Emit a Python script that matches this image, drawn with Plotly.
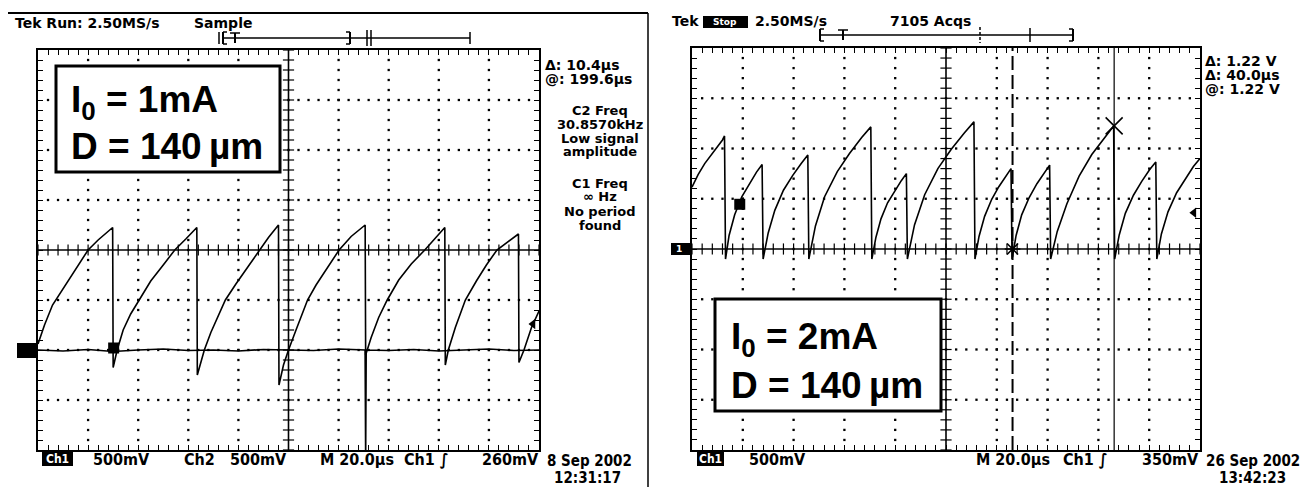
import plotly.graph_objects as go

W, H = 1307, 487

# ---------------- data (screen divisions: x 0..10, y -4..4) ----------------
# Left screen, I0 = 1 mA : Ch1 relaxation sawtooth
l_ch1_x = [0.00, 0.13, 0.29, 0.50, 0.71, 1.00, 1.20, 1.35, 1.49,
           1.50, 1.58, 1.70, 1.85, 2.02, 2.25, 2.50, 2.73, 2.95, 3.17,
           3.18, 3.32, 3.45, 3.60, 3.74, 3.95, 4.18, 4.41, 4.60, 4.80,
           4.81, 4.90, 5.00, 5.15, 5.38, 5.55, 5.78, 6.01, 6.25, 6.53,
           6.54, 6.65, 6.80, 6.97, 7.20, 7.45, 7.72, 7.90, 8.12,
           8.13, 8.19, 8.33, 8.53, 8.75, 8.95, 9.16, 9.38, 9.59,
           9.60, 9.70, 9.85, 10.00]
l_ch1_y = [-1.88, -1.50, -1.10, -0.78, -0.46, 0.00, 0.20, 0.33, 0.45,
           -2.35, -2.00, -1.60, -1.28, -1.00, -0.62, -0.30, 0.00, 0.22, 0.45,
           -2.50, -2.00, -1.65, -1.30, -1.00, -0.68, -0.35, 0.00, 0.25, 0.50,
           -2.70, -2.30, -2.00, -1.60, -1.00, -0.70, -0.35, 0.00, 0.27, 0.50,
           -2.10, -1.75, -1.35, -1.00, -0.60, -0.28, 0.00, 0.20, 0.45,
           -2.30, -2.00, -1.55, -1.00, -0.62, -0.30, 0.00, 0.17, 0.32,
           -2.25, -2.00, -1.55, -1.22]
# Left screen : Ch2 (flat trace with one spike)
l_ch2_x = [0.0, 0.5, 1.0, 1.5, 2.0, 2.5, 3.0, 3.5, 4.0, 4.5, 5.0, 5.5, 6.0,
           6.53, 6.54, 6.55, 7.0, 7.5, 8.0, 8.5, 9.0, 9.5, 10.0]
l_ch2_y = [-2.00, -2.02, -1.99, -2.03, -2.00, -1.98, -2.01, -2.00, -2.02, -1.99,
           -2.00, -2.01, -1.98, -2.00, -4.00, -2.00, -2.01, -1.99, -2.02, -2.00,
           -1.98, -2.01, -2.00]

# Right screen, I0 = 2 mA : Ch1 sawtooth
r_ch1_x = [0.00, 0.12, 0.25, 0.38, 0.50, 0.60, 0.64,
           0.66, 0.73, 0.84, 0.98, 1.13, 1.27, 1.38,
           1.40, 1.50, 1.63, 1.80, 1.98, 2.15, 2.28,
           2.30, 2.43, 2.61, 2.86, 3.10, 3.34, 3.52,
           3.54, 3.62, 3.72, 3.85, 3.99, 4.12, 4.22,
           4.24, 4.38, 4.58, 4.84, 5.10, 5.36, 5.55,
           5.57, 5.65, 5.76, 5.90, 6.04, 6.18, 6.28,
           6.30, 6.38, 6.49, 6.64, 6.79, 6.93, 7.04,
           7.06, 7.19, 7.38, 7.62, 7.87, 8.12, 8.30,
           8.32, 8.41, 8.53, 8.69, 8.85, 9.01, 9.13,
           9.15, 9.24, 9.37, 9.54, 9.71, 9.87, 10.00]
r_ch1_y = [1.23, 1.48, 1.70, 1.88, 2.03, 2.17, 2.25,
           -0.20, 0.27, 0.68, 1.04, 1.30, 1.53, 1.68,
           -0.20, 0.32, 0.77, 1.17, 1.46, 1.70, 1.87,
           -0.20, 0.46, 1.04, 1.54, 1.90, 2.22, 2.43,
           -0.20, 0.23, 0.60, 0.92, 1.16, 1.36, 1.50,
           -0.20, 0.48, 1.08, 1.60, 1.98, 2.31, 2.53,
           -0.20, 0.25, 0.65, 0.99, 1.24, 1.46, 1.60,
           -0.20, 0.27, 0.68, 1.03, 1.30, 1.52, 1.67,
           -0.20, 0.35, 0.90, 1.45, 1.88, 2.22, 2.45,
           -0.20, 0.28, 0.71, 1.07, 1.34, 1.58, 1.73,
           -0.20, 0.30, 0.74, 1.12, 1.40, 1.64, 1.80]
# Right screen cursors (divisions)
r_cursor_x = [6.31, 8.31]
r_cursor_y = [0.0, 2.45]

left_info = ["C2 Freq", "30.8570kHz", "Low signal", "amplitude",
             "C1 Freq", "\u221e Hz", "No period", "found"]

# ---------------- helpers ----------------
def px(x):
    return x / W

def py(y):
    return 1 - y / H

FONT = "DejaVu Sans"
FONTC = "DejaVu Sans Condensed, DejaVu Sans"
BIG = "Liberation Sans, Arial"

fig = go.Figure()

axstyle = dict(showgrid=False, zeroline=False, showticklabels=False,
               ticks="inside", ticklen=5, tickwidth=1, tickcolor="black",
               dtick=0.2, tick0=0, showline=True, linewidth=2,
               linecolor="black", mirror="ticks", fixedrange=True)

fig.update_layout(
    width=W, height=H, margin=dict(l=0, r=0, t=0, b=0),
    paper_bgcolor="white", plot_bgcolor="white", showlegend=False,
    xaxis=dict(domain=[px(38), px(539)], range=[0, 10], anchor="y", **axstyle),
    yaxis=dict(domain=[py(450), py(50)], range=[-4, 4], anchor="x", **axstyle),
    xaxis2=dict(domain=[px(692), px(1200)], range=[0, 10], anchor="y2", **axstyle),
    yaxis2=dict(domain=[py(450), py(48)], range=[-4, 4], anchor="x2", **axstyle),
)


def graticule(xa, ya):
    dx, dy = [], []
    for k in [1, 2, 3, 4, 6, 7, 8, 9]:
        for m in range(1, 40):
            dx.append(k)
            dy.append(-4 + m * 0.2)
    for j in [-3, -2, -1, 1, 2, 3]:
        for m in range(1, 50):
            dx.append(m * 0.2)
            dy.append(j)
    fig.add_trace(go.Scatter(x=dx, y=dy, xaxis=xa, yaxis=ya, mode="markers",
                             marker=dict(symbol="square", size=2.3, color="black"),
                             hoverinfo="skip"))
    fig.add_trace(go.Scatter(x=[0, 10], y=[0, 0], xaxis=xa, yaxis=ya, mode="lines",
                             line=dict(color="black", width=1.6), hoverinfo="skip"))
    fig.add_trace(go.Scatter(x=[5, 5], y=[-4, 4], xaxis=xa, yaxis=ya, mode="lines",
                             line=dict(color="black", width=1.6), hoverinfo="skip"))
    tx = [m * 0.2 for m in range(51)]
    fig.add_trace(go.Scatter(x=tx, y=[0] * len(tx), xaxis=xa, yaxis=ya, mode="markers",
                             marker=dict(symbol="line-ns", size=8, color="black",
                                         line=dict(width=1.2, color="black")),
                             hoverinfo="skip"))
    ty = [-4 + m * 0.2 for m in range(41)]
    fig.add_trace(go.Scatter(x=[5] * len(ty), y=ty, xaxis=xa, yaxis=ya, mode="markers",
                             marker=dict(symbol="line-ew", size=8, color="black",
                                         line=dict(width=1.2, color="black")),
                             hoverinfo="skip"))


graticule("x", "y")
graticule("x2", "y2")

# traces
fig.add_trace(go.Scatter(x=l_ch2_x, y=l_ch2_y, xaxis="x", yaxis="y", mode="lines",
                         line=dict(color="black", width=1.7), hoverinfo="skip"))
fig.add_trace(go.Scatter(x=l_ch1_x, y=l_ch1_y, xaxis="x", yaxis="y", mode="lines",
                         line=dict(color="black", width=1.6), hoverinfo="skip"))
fig.add_trace(go.Scatter(x=r_ch1_x, y=r_ch1_y, xaxis="x2", yaxis="y2", mode="lines",
                         line=dict(color="black", width=1.6), hoverinfo="skip"))

# trigger markers
fig.add_trace(go.Scatter(x=[1.51], y=[-1.96], xaxis="x", yaxis="y", mode="markers",
                         marker=dict(symbol="square", size=11, color="black"), hoverinfo="skip"))
fig.add_trace(go.Scatter(x=[0.94], y=[0.89], xaxis="x2", yaxis="y2", mode="markers",
                         marker=dict(symbol="square", size=11, color="black"), hoverinfo="skip"))
# trigger level arrows
fig.add_trace(go.Scatter(x=[9.88], y=[-1.48], xaxis="x", yaxis="y", mode="markers", cliponaxis=False,
                         marker=dict(symbol="triangle-left", size=9, color="black"), hoverinfo="skip"))
fig.add_trace(go.Scatter(x=[9.88], y=[0.72], xaxis="x2", yaxis="y2", mode="markers", cliponaxis=False,
                         marker=dict(symbol="triangle-left", size=9, color="black"), hoverinfo="skip"))
# cursors
fig.add_trace(go.Scatter(x=[r_cursor_x[0], r_cursor_x[0]], y=[-4, 4], xaxis="x2", yaxis="y2",
                         mode="lines", line=dict(color="black", width=2, dash="14px,5px"),
                         hoverinfo="skip"))
fig.add_trace(go.Scatter(x=[r_cursor_x[1], r_cursor_x[1]], y=[-4, 4], xaxis="x2", yaxis="y2",
                         mode="lines", line=dict(color="black", width=1.2), hoverinfo="skip"))
fig.add_trace(go.Scatter(x=[r_cursor_x[0]], y=[r_cursor_y[0]], xaxis="x2", yaxis="y2",
                         mode="markers", marker=dict(symbol="asterisk-open", size=13, color="black",
                                                     line=dict(width=1.6, color="black")),
                         hoverinfo="skip"))
fig.add_trace(go.Scatter(x=[r_cursor_x[1]], y=[r_cursor_y[1]], xaxis="x2", yaxis="y2",
                         mode="markers", marker=dict(symbol="x-thin-open", size=17, color="black",
                                                     line=dict(width=1.6, color="black")),
                         hoverinfo="skip"))

shapes = []
ann = []


def line(x0, y0, x1, y1, w=1.5, dash=None):
    d = dict(type="line", xref="paper", yref="paper", x0=px(x0), y0=py(y0),
             x1=px(x1), y1=py(y1), line=dict(color="black", width=w), layer="above")
    if dash:
        d["line"]["dash"] = dash
    shapes.append(d)


def rect(x0, y0, x1, y1, fill="black", w=0, lc="black"):
    shapes.append(dict(type="rect", xref="paper", yref="paper", x0=px(x0), y0=py(y0),
                       x1=px(x1), y1=py(y1), fillcolor=fill,
                       line=dict(color=lc, width=w), layer="above"))


def text(s, x, y, size=13, family=FONT, anchor="left", color="black", weight="bold"):
    ann.append(dict(text=s, xref="paper", yref="paper", x=px(x), y=py(y),
                    xanchor=anchor, yanchor="middle", showarrow=False, align="center",
                    font=dict(family=family, size=size, color=color, weight=weight)))


# left panel frame
line(8, 13, 648, 13, 2)
line(648, 13, 648, 487, 1.5)

# header texts
text("Tek Run: 2.50MS/s", 13, 23, 14)
text("Sample", 192, 23, 14)
text("Tek", 670, 21, 14)
rect(703, 16, 748, 28)
text("Stop", 725, 22, 9, anchor="center", color="white")
text("2.50MS/s", 753, 21, 14)
text("7105 Acqs", 888, 21, 14)

# left record bar
yb = 38
line(222, yb, 470, yb, 1.5)
line(219, yb - 6, 219, yb + 6, 1.5)
line(223, yb - 6, 223, yb + 6, 2)
line(223, yb - 6, 227, yb - 6, 1.5)
line(223, yb + 6, 227, yb + 6, 1.5)
line(235, yb - 5, 235, yb + 5, 2)
line(230, yb - 5, 240, yb - 5, 1.5)
line(350, yb - 6, 350, yb + 6, 2)
line(346, yb - 6, 350, yb - 6, 1.5)
line(346, yb + 6, 350, yb + 6, 1.5)
line(367, yb - 8, 367, yb + 8, 1.5)
line(371, yb - 8, 371, yb + 8, 1.5)
line(470, yb - 6, 470, yb + 6, 1.5)

# right record bar
yr = 35
line(820, yr, 1073, yr, 1.5)
line(820, yr - 6, 820, yr + 6, 2)
line(820, yr - 6, 824, yr - 6, 1.5)
line(820, yr + 6, 824, yr + 6, 1.5)
line(843, yr - 5, 843, yr + 5, 2)
line(838, yr - 5, 848, yr - 5, 1.5)
line(980, yr - 8, 980, yr + 8, 1.5, dash="3px,2px")
line(1030, yr - 7, 1030, yr + 7, 1.5)
line(1073, yr - 6, 1073, yr + 6, 2)
line(1069, yr - 6, 1073, yr - 6, 1.5)
line(1069, yr + 6, 1073, yr + 6, 1.5)

# ground markers
rect(17, 343, 38, 358)
rect(671, 243, 691, 255)
text("1", 679, 249, 9, color="white", anchor="center")

# right-side readouts
text("\u0394: 10.4\u00b5s", 543, 65, 14)
text("@: 199.6\u00b5s", 543, 79, 14)
for s, yy in zip(left_info, [110, 124, 138, 152, 183, 197, 211, 225]):
    text(s, 600, yy, 13, anchor="center")

text("\u0394: 1.22 V", 1203, 61, 14)
text("\u0394: 40.0\u00b5s", 1203, 75, 14)
text("@: 1.22 V", 1203, 89, 14)

# bottom labels left
rect(42, 452, 73, 466)
text("Ch1", 57, 459, 12, family=FONTC, anchor="center", color="white")
text("500mV", 91, 459, 16, family=FONTC)
text("Ch2", 182, 459, 16, family=FONTC)
text("500mV", 228, 459, 16, family=FONTC)
text("M 20.0\u00b5s", 318, 459, 16, family=FONTC)
text("Ch1 \u222b", 402, 459, 16, family=FONTC)
text("260mV", 480, 459, 16, family=FONTC)
text("8 Sep 2002", 589, 461, 15, family=FONTC, anchor="center")
text("12:31:17", 587, 478, 15, family=FONTC, anchor="center")

# bottom labels right
rect(697, 452, 724, 466)
text("Ch1", 710, 459, 12, family=FONTC, anchor="center", color="white")
text("500mV", 747, 459, 16, family=FONTC)
text("M 20.0\u00b5s", 974, 459, 16, family=FONTC)
text("Ch1 \u222b", 1061, 459, 16, family=FONTC)
text("350mV", 1140, 459, 16, family=FONTC)
text("26 Sep 2002", 1204, 461, 15, family=FONTC)
text("13:42:23", 1252, 478, 15, family=FONTC, anchor="center")

# label boxes
rect(56, 66, 280, 172, fill="white", w=3)
text("I<sub>0</sub> = 1mA", 69, 102, 37, family=BIG)
text("D = 140\u2009\u00b5m", 69, 146, 37, family=BIG)
rect(715, 299, 941, 411, fill="white", w=3)
text("I<sub>0</sub> = 2mA", 729, 339, 37, family=BIG)
text("D = 140\u2009\u00b5m", 729, 385, 37, family=BIG)

fig.update_layout(shapes=shapes, annotations=ann)
fig.write_html("out.html")
